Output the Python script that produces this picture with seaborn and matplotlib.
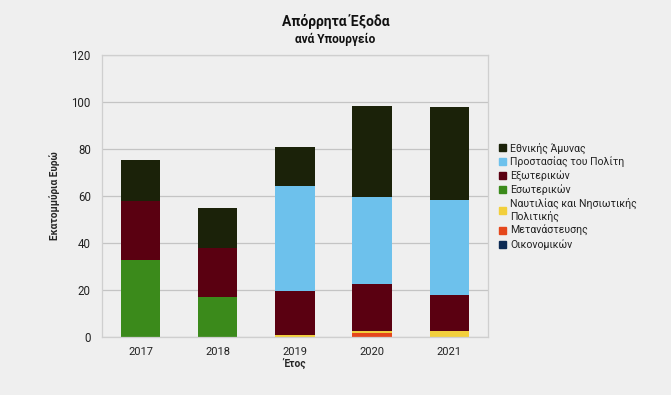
import matplotlib
matplotlib.use("Agg")
import matplotlib.pyplot as plt
import matplotlib.patches as mpatches
import numpy as np
import pandas as pd
import seaborn as sns

# --- Data (million euro) ---
years = ["2017", "2018", "2019", "2020", "2021"]

# stacking order: bottom -> top
ministries = [
    "Οικονομικών",
    "Μετανάστευσης",
    "Ναυτιλίας και Νησιωτικής\nΠολιτικής",
    "Εσωτερικών",
    "Εξωτερικών",
    "Προστασίας του Πολίτη",
    "Εθνικής Άμυνας",
]
oikonomikon = [0.0, 0.0, 0.0, 0.0, 0.0]
metanastefsis = [0.0, 0.0, 0.0, 1.6, 0.0]
naftilias = [0.0, 0.0, 1.0, 0.9, 2.4]
esoterikon = [32.8, 17.0, 0.0, 0.0, 0.0]
exoterikon = [25.1, 20.9, 18.7, 20.1, 15.5]
prostasias = [0.0, 0.0, 44.7, 37.1, 40.4]
ethnikis_amynas = [17.4, 17.0, 16.6, 38.6, 39.4]

colors = ["#0d2b55", "#e5471c", "#f2cf3c", "#3b8a1b", "#5a0011", "#6dc1ec", "#1b2209"]

series = [oikonomikon, metanastefsis, naftilias, esoterikon,
          exoterikon, prostasias, ethnikis_amynas]

bg = "#efefef"
sns.set_style("white")
plt.rcParams["font.family"] = ["Roboto", "DejaVu Sans"]

fig = plt.figure(figsize=(6.71, 3.95), dpi=100, facecolor=bg)
ax = fig.add_axes([0.152, 0.147, 0.575, 0.714])
ax.set_facecolor(bg)

# cumulative totals, drawn from the top layer down so lower layers overlap
cum = np.cumsum(np.array(series), axis=0)
for i in range(len(series) - 1, -1, -1):
    df = pd.DataFrame({"year": years, "value": cum[i]})
    sns.barplot(data=df, x="year", y="value", color=colors[i], saturation=1,
                width=0.51, ax=ax, errorbar=None, edgecolor="none", linewidth=0)

ax.set_ylim(0, 120)
ax.set_xlim(-0.5, 4.5)
ax.set_yticks(range(0, 121, 20))
ax.yaxis.grid(True, color="#c4c4c4", linewidth=0.9)
ax.set_axisbelow(True)
for s in ax.spines.values():
    s.set_color("#cfcfcf")
    s.set_linewidth(0.9)

# x ticks at category boundaries, labels centered
ax.set_xticks(np.arange(-0.5, 5, 1), minor=False)
ax.set_xticklabels([])
ax.set_xticks(range(5), minor=True)
ax.set_xticklabels(years, minor=True)
ax.tick_params(axis="x", which="major", length=5, color="#cfcfcf")
ax.tick_params(axis="x", which="minor", length=0, labelsize=8, colors="#222222", pad=7)
ax.tick_params(axis="y", length=6, color="#cfcfcf", labelsize=8.3, labelcolor="#222222", pad=2)

ax.set_xlabel("Έτος", fontsize=7.3, fontweight="bold")
ax.xaxis.set_label_coords(0.5, -0.075)
ax.set_ylabel("Εκατομμύρια Ευρώ", fontsize=7.3, fontweight="bold", va="center")
ax.yaxis.set_label_coords(-0.122, 0.5)

fig.text(0.5, 0.945, "Απόρρητα Έξοδα", ha="center", va="center",
         fontsize=10, fontweight="bold", color="#111111")
fig.text(0.5, 0.9, "ανά Υπουργείο", ha="center", va="center",
         fontsize=8.6, fontweight="bold", color="#111111")

handles = [mpatches.Patch(color=colors[i], label=ministries[i])
           for i in range(len(ministries) - 1, -1, -1)]
leg = fig.legend(handles=handles, loc="upper left", bbox_to_anchor=(0.738, 0.65),
                 frameon=False, fontsize=7.6, handlelength=0.65, handleheight=0.65,
                 handletextpad=0.35, labelspacing=0.27, borderaxespad=0)
for t in leg.get_texts():
    t.set_color("#222222")

fig.savefig("out.png", dpi=100, facecolor=bg)
